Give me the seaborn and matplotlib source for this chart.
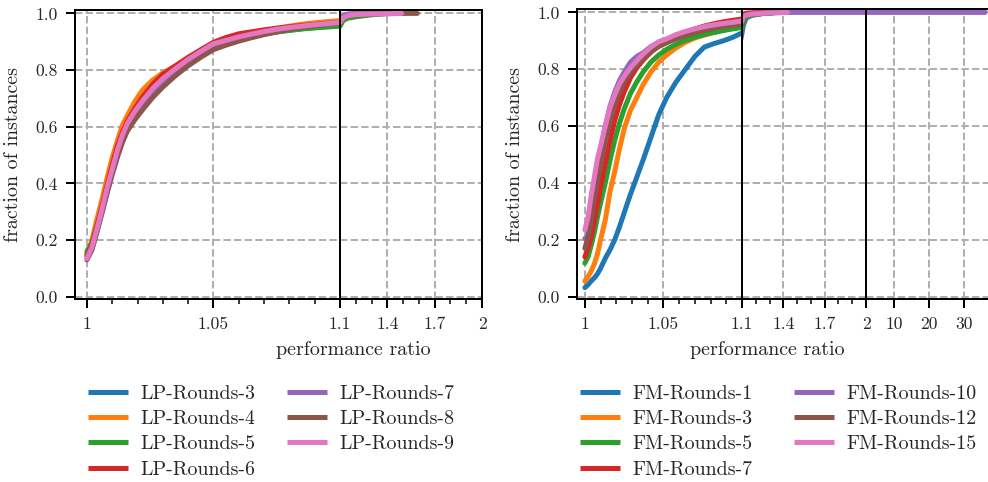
import numpy as np
import pandas as pd
import matplotlib
matplotlib.use("Agg")
import matplotlib.pyplot as plt
import seaborn as sns
from matplotlib.lines import Line2D
from matplotlib.ticker import MultipleLocator, FixedLocator, NullLocator

# ---------------- data ----------------
nan = np.nan

LP_NAMES = ["LP-Rounds-3", "LP-Rounds-4", "LP-Rounds-5", "LP-Rounds-6",
            "LP-Rounds-7", "LP-Rounds-8", "LP-Rounds-9"]
LP_TAU = [1.000, 1.002, 1.004, 1.006, 1.008, 1.010, 1.012, 1.014, 1.016, 1.019,
          1.022, 1.026, 1.030, 1.035, 1.040, 1.045, 1.050, 1.055, 1.060, 1.065,
          1.070, 1.075, 1.080, 1.085, 1.090, 1.095, 1.100,
          1.12, 1.15, 1.20, 1.30, 1.40, 1.49, 1.59]
lp_rounds_3 = [0.150, 0.185, 0.245, 0.315, 0.385, 0.450, 0.510, 0.565, 0.605, 0.652,
               0.690, 0.732, 0.767, 0.802, 0.834, 0.862, 0.888, 0.900, 0.911, 0.920,
               0.928, 0.935, 0.941, 0.946, 0.950, 0.954, 0.957,
               0.980, 0.990, 0.995, 0.998, 1.000, nan, nan]
lp_rounds_4 = [0.150, 0.200, 0.275, 0.345, 0.420, 0.490, 0.550, 0.605, 0.640, 0.690,
               0.730, 0.765, 0.790, 0.815, 0.843, 0.868, 0.890, 0.903, 0.915, 0.927,
               0.938, 0.947, 0.955, 0.962, 0.967, 0.971, 0.975,
               0.988, 0.994, 0.997, 0.999, 1.000, nan, nan]
lp_rounds_5 = [0.160, 0.190, 0.250, 0.315, 0.380, 0.440, 0.500, 0.555, 0.600, 0.650,
               0.690, 0.733, 0.768, 0.803, 0.835, 0.862, 0.887, 0.899, 0.910, 0.919,
               0.927, 0.934, 0.940, 0.945, 0.949, 0.952, 0.955,
               0.975, 0.983, 0.988, 0.995, 1.000, nan, nan]
lp_rounds_6 = [0.145, 0.185, 0.250, 0.320, 0.395, 0.465, 0.530, 0.580, 0.620, 0.665,
               0.705, 0.750, 0.785, 0.815, 0.845, 0.872, 0.898, 0.915, 0.928, 0.935,
               0.942, 0.948, 0.953, 0.957, 0.961, 0.965, 0.968,
               0.985, 0.993, 0.997, 0.999, 1.000, nan, nan]
lp_rounds_7 = [0.140, 0.170, 0.230, 0.295, 0.365, 0.430, 0.490, 0.545, 0.590, 0.640,
               0.680, 0.725, 0.762, 0.800, 0.834, 0.862, 0.888, 0.901, 0.913, 0.924,
               0.933, 0.941, 0.948, 0.954, 0.959, 0.963, 0.967,
               0.992, 0.998, 1.000, 1.000, 1.000, nan, nan]
lp_rounds_8 = [0.130, 0.165, 0.230, 0.300, 0.370, 0.435, 0.495, 0.545, 0.585, 0.625,
               0.660, 0.703, 0.740, 0.780, 0.815, 0.845, 0.872, 0.888, 0.902, 0.914,
               0.925, 0.935, 0.944, 0.951, 0.957, 0.962, 0.966,
               0.983, 0.991, 0.995, 0.998, 0.999, 1.000, 1.000]
lp_rounds_9 = [0.135, 0.175, 0.240, 0.310, 0.385, 0.450, 0.515, 0.570, 0.612, 0.655,
               0.692, 0.735, 0.770, 0.805, 0.838, 0.866, 0.893, 0.905, 0.917, 0.927,
               0.936, 0.944, 0.950, 0.955, 0.960, 0.964, 0.968,
               0.984, 0.992, 0.996, 0.998, 0.999, 1.000, nan]
LP_SERIES = [lp_rounds_3, lp_rounds_4, lp_rounds_5, lp_rounds_6,
             lp_rounds_7, lp_rounds_8, lp_rounds_9]

FM_NAMES = ["FM-Rounds-1", "FM-Rounds-3", "FM-Rounds-5", "FM-Rounds-7",
            "FM-Rounds-10", "FM-Rounds-12", "FM-Rounds-15"]
FM_TAU = [1.000, 1.002, 1.004, 1.006, 1.008, 1.010, 1.013, 1.016, 1.019, 1.022,
          1.025, 1.029, 1.033, 1.037, 1.042, 1.047, 1.052, 1.058, 1.064, 1.070,
          1.076, 1.082, 1.088, 1.094, 1.100,
          1.11, 1.13, 1.17, 1.25, 1.35, 1.43, 2.0, 36.0]
fm_rounds_1 = [0.032, 0.042, 0.055, 0.066, 0.080, 0.100, 0.135, 0.165, 0.200, 0.245,
               0.295, 0.360, 0.420, 0.480, 0.560, 0.640, 0.700, 0.755, 0.800, 0.845,
               0.878, 0.890, 0.900, 0.912, 0.928,
               0.955, 0.980, 0.990, 0.996, 1.000, nan, nan, nan]
fm_rounds_3 = [0.055, 0.070, 0.090, 0.115, 0.150, 0.200, 0.270, 0.370, 0.440, 0.520,
               0.590, 0.655, 0.700, 0.745, 0.790, 0.825, 0.850, 0.875, 0.895, 0.910,
               0.920, 0.930, 0.938, 0.945, 0.952,
               0.975, 0.985, 0.992, 0.997, 1.000, nan, nan, nan]
fm_rounds_5 = [0.118, 0.140, 0.180, 0.225, 0.280, 0.330, 0.400, 0.480, 0.550, 0.610,
               0.660, 0.715, 0.755, 0.790, 0.825, 0.850, 0.870, 0.888, 0.902, 0.913,
               0.922, 0.929, 0.936, 0.942, 0.947,
               0.972, 0.982, 0.990, 0.996, 1.000, nan, nan, nan]
fm_rounds_7 = [0.140, 0.170, 0.210, 0.265, 0.325, 0.385, 0.470, 0.550, 0.620, 0.675,
               0.720, 0.770, 0.805, 0.832, 0.860, 0.882, 0.898, 0.915, 0.930, 0.942,
               0.952, 0.960, 0.967, 0.972, 0.977,
               0.993, 0.997, 0.999, 1.000, 1.000, nan, nan, nan]
fm_rounds_10 = [0.205, 0.215, 0.290, 0.380, 0.460, 0.520, 0.600, 0.670, 0.720, 0.760,
                0.790, 0.825, 0.845, 0.858, 0.880, 0.895, 0.905, 0.920, 0.930, 0.940,
                0.948, 0.955, 0.961, 0.965, 0.970,
                0.985, 0.990, 0.994, 0.997, 0.999, 1.000, 1.000, 1.000]
fm_rounds_12 = [0.170, 0.210, 0.270, 0.340, 0.410, 0.470, 0.550, 0.620, 0.675, 0.720,
                0.755, 0.790, 0.815, 0.838, 0.862, 0.880, 0.893, 0.907, 0.918, 0.928,
                0.937, 0.944, 0.950, 0.955, 0.960,
                0.980, 0.987, 0.993, 0.997, 1.000, nan, nan, nan]
fm_rounds_15 = [0.235, 0.280, 0.355, 0.420, 0.485, 0.530, 0.600, 0.665, 0.710, 0.748,
                0.775, 0.805, 0.830, 0.853, 0.878, 0.897, 0.907, 0.922, 0.933, 0.942,
                0.950, 0.956, 0.961, 0.965, 0.970,
                0.985, 0.990, 0.994, 0.997, 0.999, 1.000, nan, nan]
FM_SERIES = [fm_rounds_1, fm_rounds_3, fm_rounds_5, fm_rounds_7,
             fm_rounds_10, fm_rounds_12, fm_rounds_15]

# x-axis segments (limits, major ticks, tick labels)
LP_SEGMENTS = [
    dict(xlim=(0.9953, 1.1), major=[1.0, 1.05, 1.1], labels=["1", "1.05", ""], minor=0.01),
    dict(xlim=(1.1, 2.0), major=[1.1, 1.4, 1.7, 2.0], labels=["1.1", "1.4", "1.7", "2"], minor=0.1),
]
FM_SEGMENTS = [
    dict(xlim=(0.995, 1.1), major=[1.0, 1.05, 1.1], labels=["1", "1.05", ""], minor=0.01),
    dict(xlim=(1.1, 2.0), major=[1.1, 1.4, 1.7, 2.0], labels=["1.1", "1.4", "1.7", "2"], minor=0.1),
    dict(xlim=(2.0, 37.4), major=[2.0, 10.0, 20.0, 30.0], labels=["", "10", "20", "30"], minor=None),
]
Y_TICKS = [0.0, 0.2, 0.4, 0.6, 0.8, 1.0]
Y_TICK_LABELS = ["0.0", "0.2", "0.4", "0.6", "0.8", "1.0"]

# ---------------- style ----------------
sns.set_style("white")
plt.rcParams["font.family"] = ["cmr10", "DejaVu Serif"]
plt.rcParams["axes.formatter.use_mathtext"] = True
plt.rcParams["axes.unicode_minus"] = False

COLORS = sns.color_palette("tab10", 7)
S = 1.8  # scale factor relative to default sizes
TICK_FS = 7 * S
LABEL_FS = 8 * S
LW = 2.0 * S

W, H = 988, 482
fig = plt.figure(figsize=(W / 100, H / 100), dpi=100)


def long_frame(names, tau, series):
    rows = []
    for name, vals in zip(names, series):
        for t, v in zip(tau, vals):
            if not np.isnan(v):
                rows.append((name, t, v))
    return pd.DataFrame(rows, columns=["solver", "tau", "frac"])


def px_box(x0, x1, y0, y1):
    return [x0 / W, 1 - y1 / H, (x1 - x0) / W, (y1 - y0) / H]


def draw_panel(df, names, segments, xedges, ytop, ybot):
    axes = []
    for i, seg in enumerate(segments):
        ax = fig.add_axes(px_box(xedges[i], xedges[i + 1], ytop, ybot))
        sns.lineplot(data=df, x="tau", y="frac", hue="solver", hue_order=names,
                     palette=COLORS, estimator=None, sort=True, linewidth=LW,
                     legend=False, ax=ax)
        ax.set_xlim(*seg["xlim"])
        ax.set_ylim(-0.008, 1.012)
        ax.xaxis.set_major_locator(FixedLocator(seg["major"]))
        ax.set_xticklabels(seg["labels"])
        if seg["minor"]:
            ax.xaxis.set_minor_locator(MultipleLocator(seg["minor"]))
        else:
            ax.xaxis.set_minor_locator(NullLocator())
        ax.yaxis.set_major_locator(FixedLocator(Y_TICKS))
        ax.set_yticklabels(Y_TICK_LABELS)
        ax.set_xlabel("")
        ax.set_ylabel("")
        ax.grid(True, which="major", color="#b0b0b0", linestyle="--",
                linewidth=0.8 * S)
        ax.tick_params(axis="both", which="major", length=3.5 * S, width=0.8 * S,
                       pad=3.5 * S, labelsize=TICK_FS, direction="out",
                       bottom=True, left=True, color="black")
        ax.tick_params(axis="x", which="minor", length=2.0 * S, width=0.6 * S,
                       bottom=True, color="black")
        for sp in ax.spines.values():
            sp.set_visible(True)
            sp.set_color("black")
            sp.set_linewidth(0.8 * S)
        if i > 0:
            ax.tick_params(axis="y", which="both", left=False, labelleft=False)
        axes.append(ax)
    return axes


lp_df = long_frame(LP_NAMES, LP_TAU, LP_SERIES)
fm_df = long_frame(FM_NAMES, FM_TAU, FM_SERIES)

draw_panel(lp_df, LP_NAMES, LP_SEGMENTS, [75, 340, 482], 10, 299)
draw_panel(fm_df, FM_NAMES, FM_SEGMENTS, [577, 742, 866, 990], 9, 299)

# axis labels
fig.text(13 / W, 1 - 155 / H, "fraction of instances", rotation=90,
         ha="center", va="center", fontsize=LABEL_FS)
fig.text(515 / W, 1 - 155 / H, "fraction of instances", rotation=90,
         ha="center", va="center", fontsize=LABEL_FS)
fig.text(353 / W, 1 - 350 / H, "performance ratio", ha="center", va="center",
         fontsize=LABEL_FS)
fig.text(767 / W, 1 - 350 / H, "performance ratio", ha="center", va="center",
         fontsize=LABEL_FS)

# legends
def add_legend(names, x_px, colspace):
    handles = [Line2D([], [], color=c, linewidth=LW, solid_capstyle="butt")
               for c in COLORS]
    fig.legend(handles, names, loc="upper left",
               bbox_to_anchor=(x_px / W, 1 - 385 / H), ncol=2, frameon=False,
               fontsize=LABEL_FS, borderpad=0.0, borderaxespad=0.0,
               handlelength=2.0, handletextpad=0.6, columnspacing=colspace,
               labelspacing=0.36)

add_legend(LP_NAMES, 88, 1.6)
add_legend(FM_NAMES, 580, 2.1)

fig.savefig("out.png", dpi=100)
